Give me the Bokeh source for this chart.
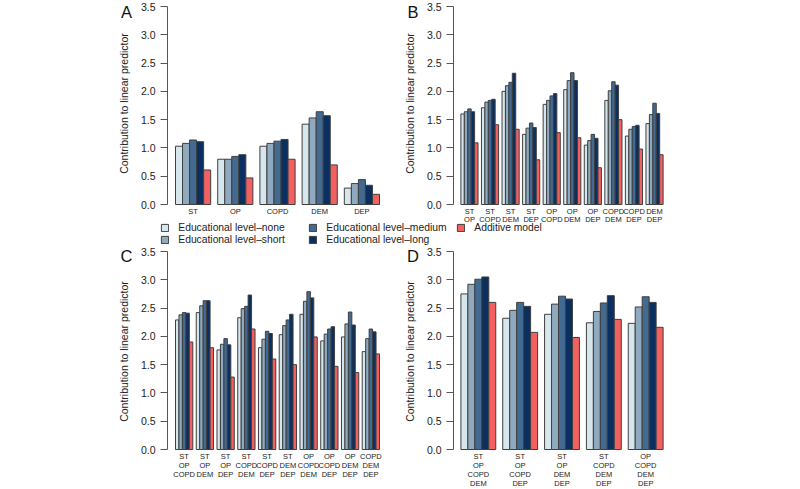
from bokeh.plotting import figure
from bokeh.models import (Range1d, FixedTicker, LinearAxis, Legend,
                          LegendItem, PrintfTickFormatter)
from bokeh.core.properties import value
from bokeh.layouts import column, row
from bokeh.embed import file_html
from bokeh.resources import INLINE

FONT = "Liberation Sans"

series_labels = ["Educational level\u2013none", "Educational level\u2013short",
                 "Educational level\u2013medium", "Educational level\u2013long",
                 "Additive model"]
series_colors = ["#d6e6ed", "#8faabf", "#436a91", "#0b2f5e", "#f26060"]
y_ticks = [0.0, 0.5, 1.0, 1.5, 2.0, 2.5, 3.0, 3.5]

# A: single conditions
groups_a = ["ST", "OP", "COPD", "DEM", "DEP"]
a_none = [1.03, 0.80, 1.03, 1.42, 0.29]
a_short = [1.08, 0.80, 1.08, 1.53, 0.37]
a_medium = [1.14, 0.85, 1.12, 1.64, 0.44]
a_long = [1.11, 0.88, 1.15, 1.57, 0.34]
a_add = [0.61, 0.47, 0.80, 0.70, 0.18]

# B: pairs of conditions
groups_b = ["ST\nOP", "ST\nCOPD", "ST\nDEM", "ST\nDEP", "OP\nCOPD", "OP\nDEM",
            "OP\nDEP", "COPD\nDEM", "COPD\nDEP", "DEM\nDEP"]
b_none = [1.60, 1.71, 2.00, 1.24, 1.77, 2.03, 1.05, 1.84, 1.21, 1.43]
b_short = [1.64, 1.81, 2.10, 1.35, 1.84, 2.19, 1.13, 2.01, 1.33, 1.59]
b_medium = [1.69, 1.84, 2.16, 1.44, 1.92, 2.33, 1.24, 2.17, 1.38, 1.79]
b_long = [1.64, 1.86, 2.32, 1.36, 1.96, 2.19, 1.17, 2.11, 1.40, 1.61]
b_add = [1.09, 1.41, 1.33, 0.79, 1.27, 1.18, 0.65, 1.50, 0.98, 0.88]

# C: triples of conditions
groups_c = ["ST\nOP\nCOPD", "ST\nOP\nDEM", "ST\nOP\nDEP", "ST\nCOPD\nDEM",
            "ST\nCOPD\nDEP", "ST\nDEM\nDEP", "OP\nCOPD\nDEM", "OP\nCOPD\nDEP",
            "OP\nDEM\nDEP", "COPD\nDEM\nDEP"]
c_none = [2.29, 2.42, 1.76, 2.33, 1.80, 2.03, 2.39, 1.92, 1.99, 1.73]
c_short = [2.38, 2.54, 1.86, 2.49, 1.95, 2.19, 2.62, 2.04, 2.22, 1.96]
c_medium = [2.42, 2.63, 1.96, 2.53, 2.09, 2.29, 2.79, 2.13, 2.43, 2.13]
c_long = [2.41, 2.63, 1.85, 2.73, 2.05, 2.39, 2.68, 2.17, 2.20, 2.08]
c_add = [1.90, 1.80, 1.28, 2.13, 1.60, 1.50, 1.99, 1.47, 1.36, 1.69]

# D: four conditions
groups_d = ["ST\nOP\nCOPD\nDEM", "ST\nOP\nCOPD\nDEP", "ST\nOP\nDEM\nDEP",
            "ST\nCOPD\nDEM\nDEP", "OP\nCOPD\nDEM\nDEP"]
d_none = [2.75, 2.32, 2.39, 2.24, 2.23]
d_short = [2.92, 2.46, 2.57, 2.44, 2.52]
d_medium = [3.01, 2.60, 2.71, 2.59, 2.70]
d_long = [3.05, 2.53, 2.66, 2.72, 2.60]
d_add = [2.60, 2.07, 1.98, 2.30, 2.16]

FRAME_W = 220
PX_PER_Y = 198 / 3.5
OUTLINE = "#3f3f3f"
AXIS_COL = "#555555"
TEXT_COL = "#222222"


def panel(letter, groups, values, border_left, bar_gap, bar_span, y_end,
          border_top, frame_h, border_bottom, first_off, line_gap, letter_dy):
    fig_w = 400
    n = len(groups)
    units = 6 * n - 1
    ppu = bar_span / units
    x0 = -2.5 - bar_gap / ppu
    x1 = x0 + FRAME_W / ppu
    y0 = y_end - frame_h / PX_PER_Y
    p = figure(width=fig_w, height=border_top + frame_h + border_bottom,
               x_range=Range1d(x0, x1), y_range=Range1d(y0, y_end),
               output_backend="svg", toolbar_location=None,
               x_axis_type=None, y_axis_type=None,
               min_border_left=border_left,
               min_border_right=fig_w - border_left - FRAME_W,
               min_border_top=border_top, min_border_bottom=border_bottom)
    p.outline_line_color = None
    p.background_fill_color = "white"
    p.border_fill_color = "white"

    for i, vals in enumerate(values):
        xs = [g * 6 + i - 2 for g in range(n)]
        p.vbar(x=xs, top=vals, bottom=0, width=1,
               fill_color=series_colors[i], line_color=OUTLINE, line_width=1)

    yax = LinearAxis(ticker=FixedTicker(ticks=y_ticks),
                     formatter=PrintfTickFormatter(format="%.1f"),
                     bounds=(0, 3.5),
                     axis_label="Contribution to linear predictor",
                     axis_label_text_font=FONT,
                     axis_label_text_font_size="10.5px",
                     axis_label_text_font_style="normal",
                     axis_label_text_color=TEXT_COL,
                     axis_label_standoff=8,
                     axis_line_color=AXIS_COL,
                     major_tick_line_color=AXIS_COL,
                     minor_tick_line_color=None,
                     major_tick_out=7, major_tick_in=0,
                     major_label_standoff=5,
                     major_label_text_font=FONT,
                     major_label_text_font_size="10.5px",
                     major_label_text_color=TEXT_COL)
    p.add_layout(yax, "left")

    # group names under each cluster of bars, one text row per line
    split = [g.split("\n") for g in groups]
    for k in range(max(len(s) for s in split)):
        xs = [g * 6 for g, s in enumerate(split) if k < len(s)]
        ts = [s[k] for s in split if k < len(s)]
        ys = [-(first_off + k * line_gap) / PX_PER_Y] * len(xs)
        p.text(x=xs, y=ys, text=ts, text_font=value(FONT),
               text_font_size="7.5px", text_align="center",
               text_baseline="middle", text_color=TEXT_COL, level="overlay")

    # panel letter, left of the value axis
    p.text(x=[x0 - 41 / ppu], y=[y_end - letter_dy / PX_PER_Y], text=[letter],
           text_font=value(FONT), text_font_size="16.5px", text_align="center",
           text_baseline="middle", text_color="#111111", level="overlay")
    return p


top_end = 3.5 + 6 / PX_PER_Y
pa = panel("A", groups_a, [a_none, a_short, a_medium, a_long, a_add],
           167, 8, 204, top_end, 0, 206, 17, 6.5, 8.3, 11)
pb = panel("B", groups_b, [b_none, b_short, b_medium, b_long, b_add],
           50, 7.5, 205, top_end, 0, 206, 17, 6.5, 8.3, 11)
pc = panel("C", groups_c, [c_none, c_short, c_medium, c_long, c_add],
           167, 8, 204, 3.5, 5, 200, 38, 6.5, 9.1, 4)
pd = panel("D", groups_d, [d_none, d_short, d_medium, d_long, d_add],
           50, 7.5, 205, 3.5, 5, 200, 38, 6.5, 9.1, 4)

# Shared legend strip between the two rows; the swatch renderers sit
# outside the visible range and only supply the legend glyph styles
leg = figure(width=800, height=23, x_range=Range1d(0, 800), y_range=Range1d(0, 23),
             output_backend="svg", toolbar_location=None,
             x_axis_type=None, y_axis_type=None,
             min_border_left=0, min_border_right=0, min_border_top=0,
             min_border_bottom=0)
leg.outline_line_color = None
swatches = [leg.vbar(x=[-1000], top=[-50], bottom=[-51], width=1, fill_color=c,
                     line_color=OUTLINE, line_width=1) for c in series_colors]


def legend_row(idx, loc):
    lg = Legend(items=[LegendItem(label=series_labels[i], renderers=[swatches[i]])
                       for i in idx],
                location=loc, orientation="horizontal",
                glyph_width=9, glyph_height=9, label_height=9, label_width=130,
                label_standoff=9, spacing=0, padding=0, margin=0,
                border_line_color=None, background_fill_alpha=0,
                label_text_font=FONT, label_text_font_size="10.3px",
                label_text_color=TEXT_COL)
    leg.add_layout(lg)


legend_row([0, 2, 4], (160.3, 12.7))
legend_row([1, 3], (160.3, 1.0))

layout = column(row(pa, pb), leg, row(pc, pd))
open("out.html", "w").write(file_html(layout, INLINE))
